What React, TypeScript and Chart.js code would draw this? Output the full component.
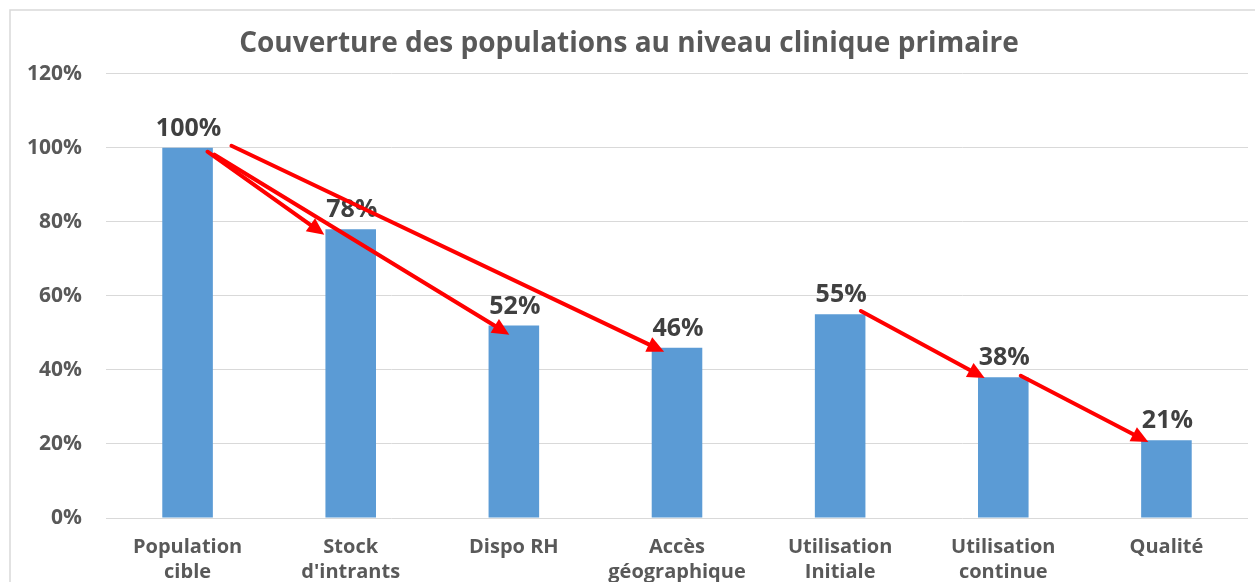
import React, { useEffect, useRef } from "react";
import { Chart, registerables } from "chart.js";

Chart.register(...registerables);

const TITLE = "Couverture des populations au niveau clinique primaire";
const CATEGORIES: string[][] = [
  ["Population", "cible"],
  ["Stock", "d'intrants"],
  ["Dispo RH"],
  ["Accès", "géographique"],
  ["Utilisation", "Initiale"],
  ["Utilisation", "continue"],
  ["Qualité"],
];
const VALUES = [1.0, 0.78, 0.52, 0.46, 0.55, 0.38, 0.21];
const Y_MIN = 0;
const Y_MAX = 1.2;
const Y_STEP = 0.2;

// Arrow annotations in data space: [category index, value]
const ARROW_FROM: [number, number][] = [
  [0.122, 0.989],
  [0.165, 0.981],
  [0.269, 1.005],
  [4.127, 0.559],
  [5.107, 0.384],
];
const ARROW_TO: [number, number][] = [
  [0.838, 0.765],
  [1.972, 0.495],
  [2.921, 0.449],
  [4.886, 0.378],
  [5.889, 0.205],
];

const pct = (v: number) => `${Math.round(v * 100)}%`;

export default function App() {
  const ref = useRef<HTMLCanvasElement | null>(null);

  useEffect(() => {
    if (!ref.current) return;

    const framePlugin = {
      id: "frame",
      beforeDraw(chart: any) {
        const ctx = chart.ctx;
        ctx.save();
        ctx.fillStyle = "#ffffff";
        ctx.fillRect(0, 0, chart.width, chart.height);
        ctx.strokeStyle = "#d9d9d9";
        ctx.lineWidth = 1.5;
        ctx.strokeRect(10, 10, chart.width + 20, chart.height + 20);
        ctx.restore();
      },
    };

    const labelsPlugin = {
      id: "valueLabels",
      afterDatasetsDraw(chart: any) {
        const ctx = chart.ctx;
        const meta = chart.getDatasetMeta(0);
        ctx.save();
        ctx.font = "bold 25px 'Open Sans'";
        ctx.fillStyle = "#404040";
        ctx.textAlign = "center";
        ctx.textBaseline = "middle";
        meta.data.forEach((bar: any, i: number) => {
          ctx.fillText(pct(VALUES[i]), bar.x + 1, bar.y - 19);
        });
        ctx.restore();
      },
    };

    const arrowsPlugin = {
      id: "arrows",
      afterDraw(chart: any) {
        const ctx = chart.ctx;
        const xs = chart.scales.x;
        const ys = chart.scales.y;
        const px = (i: number) => {
          const a = xs.getPixelForValue(Math.floor(i));
          const b = xs.getPixelForValue(Math.floor(i) + 1);
          return a + (b - a) * (i - Math.floor(i));
        };
        ctx.save();
        ctx.strokeStyle = "#ff0000";
        ctx.fillStyle = "#ff0000";
        ctx.lineWidth = 4;
        ctx.lineCap = "round";
        ARROW_FROM.forEach((f, k) => {
          const t = ARROW_TO[k];
          const x1 = px(f[0]);
          const y1 = ys.getPixelForValue(f[1]);
          const x2 = px(t[0]);
          const y2 = ys.getPixelForValue(t[1]);
          const ang = Math.atan2(y2 - y1, x2 - x1);
          const head = 17;
          const hw = 8;
          const bx = x2 - head * Math.cos(ang);
          const by = y2 - head * Math.sin(ang);
          ctx.beginPath();
          ctx.moveTo(x1, y1);
          ctx.lineTo(bx, by);
          ctx.stroke();
          ctx.beginPath();
          ctx.moveTo(x2, y2);
          ctx.lineTo(bx + hw * Math.sin(ang), by - hw * Math.cos(ang));
          ctx.lineTo(bx - hw * Math.sin(ang), by + hw * Math.cos(ang));
          ctx.closePath();
          ctx.fill();
        });
        ctx.restore();
      },
    };

    const chart = new Chart(ref.current, {
      type: "bar",
      data: {
        labels: CATEGORIES,
        datasets: [
          {
            data: VALUES,
            backgroundColor: "#5b9bd5",
            borderWidth: 0,
            barPercentage: 0.31,
            categoryPercentage: 1,
          },
        ],
      },
      options: {
        animation: false,
        responsive: false,
        maintainAspectRatio: false,
        layout: { padding: { left: 10, top: 10, right: 7, bottom: 0 } },
        plugins: {
          legend: { display: false },
          tooltip: { enabled: false },
          title: {
            display: true,
            text: TITLE,
            color: "#595959",
            font: { family: "'Open Sans'", size: 28, weight: "bold", lineHeight: 1.2 },
            padding: { top: 17, bottom: 13 },
          },
        },
        scales: {
          x: {
            grid: { display: false },
            border: { display: false },
            ticks: {
              color: "#595959",
              font: { family: "'Open Sans'", size: 20, weight: "bold", lineHeight: 1.25 },
              padding: 9,
              maxRotation: 0,
              autoSkip: false,
            },
            afterFit(scale: any) {
              scale.height = 64;
            },
          },
          y: {
            min: Y_MIN,
            max: Y_MAX,
            grid: { color: "#d9d9d9", drawTicks: false, lineWidth: 1 },
            border: { display: false },
            ticks: {
              stepSize: Y_STEP,
              color: "#595959",
              font: { family: "'Open Sans'", size: 21, weight: "bold" },
              padding: 24,
              callback: (v: any) => pct(Number(v)),
            },
            afterFit(scale: any) {
              scale.width = 96;
            },
          },
        },
      },
      plugins: [framePlugin, labelsPlugin, arrowsPlugin],
    } as any);

    return () => chart.destroy();
  }, []);

  return (
    <div style={{ position: "absolute", left: 0, top: 0, width: 1255, height: 582 }}>
      <canvas ref={ref} width={1255} height={582} style={{ display: "block" }} />
    </div>
  );
}
